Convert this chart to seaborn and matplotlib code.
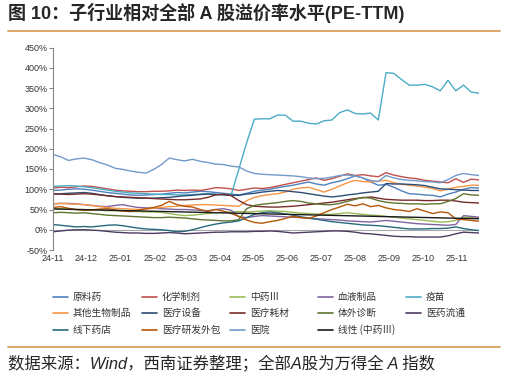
import numpy as np
import pandas as pd
import matplotlib
matplotlib.use('Agg')
import matplotlib.pyplot as plt
import matplotlib.dates as mdates
from matplotlib.lines import Line2D
import seaborn as sns

# --- data: weekly premium (%) vs all-A ---
dates = pd.date_range('2024-11-01', periods=56, freq='7D')

yuanliao = [97, 98, 100, 101, 100, 98, 95, 92, 90, 88,
            86, 85, 86, 87, 88, 90, 92, 91, 93, 95,
            94, 92, 90, 88, 86, 90, 95, 98, 100, 104,
            107, 110, 114, 118, 113, 110, 116, 120, 126, 133,
            128, 118, 110, 112, 105, 96, 89, 88, 86, 85,
            81, 88, 93, 100, 104, 103]
huaxue = [103, 105, 104, 106, 108, 107, 104, 101, 98, 96,
          95, 94, 94, 95, 95, 96, 98, 97, 98, 97,
          100, 104, 103, 101, 97, 100, 103, 102, 104, 108,
          112, 116, 120, 124, 128, 122, 126, 132, 138, 134,
          136, 133, 131, 141, 135, 131, 128, 126, 122, 120,
          118, 116, 126, 117, 125, 123]
zhongyao = [52, 52, 51, 50, 50, 49, 48, 47, 47, 46,
            45, 45, 44, 44, 43, 40, 37, 35, 36, 38,
            40, 42, 43, 44, 45, 44, 45, 46, 47, 46,
            45, 43, 41, 40, 39, 38, 38, 40, 42, 40,
            38, 36, 35, 33, 31, 29, 27, 25, 23, 21,
            19, 20, 23, 31, 30, 30]
xueye = [64, 65, 65, 64, 62, 60, 58, 57, 60, 62,
         58, 55, 54, 53, 52, 51, 50, 50, 49, 48,
         47, 50, 52, 48, 32, 30, 33, 35, 34, 33,
         32, 31, 30, 28, 27, 26, 25, 24, 22, 21,
         20, 19, 21, 23, 21, 19, 17, 15, 14, 13,
         12, 11, 13, 35, 33, 31]
yimiao = [107, 108, 109, 108, 106, 104, 101, 98, 95, 93,
          91, 90, 89, 88, 87, 87, 86, 86, 87, 88,
          89, 88, 87, 86, 150, 215, 273, 274, 274, 283,
          283, 268, 268, 263, 261, 269, 271, 289, 296, 287,
          286, 288, 271, 388, 386, 371, 357, 357, 359, 353,
          343, 369, 343, 357, 340, 337]
qita = [64, 65, 64, 63, 62, 60, 57, 55, 53, 52,
        51, 50, 51, 53, 55, 57, 58, 60, 61, 62,
        62, 61, 60, 59, 58, 72, 80, 84, 87, 89,
        93, 100, 103, 105, 99, 93, 100, 108, 116, 122,
        119, 118, 120, 122, 116, 112, 110, 108, 105, 102,
        96, 100, 105, 107, 110, 110]
shebei = [88, 89, 90, 91, 92, 90, 87, 84, 82, 80,
          79, 78, 78, 78, 79, 80, 82, 84, 85, 87,
          88, 87, 86, 85, 85, 88, 90, 93, 95, 97,
          96, 94, 92, 89, 86, 83, 81, 83, 86, 88,
          91, 93, 95, 114, 113, 113, 112, 111, 109, 105,
          101, 100, 99, 98, 97, 97]
haocai = [88, 88, 87, 88, 89, 88, 86, 84, 82, 81,
          80, 79, 78, 77, 76, 75, 74, 74, 75, 76,
          80, 86, 88, 84, 72, 62, 58, 57, 56, 56,
          57, 58, 60, 62, 64, 66, 68, 71, 74, 77,
          79, 81, 78, 75, 74, 73, 73, 73, 72, 72,
          73, 73, 71, 68, 67, 66]
tiwai = [42, 43, 42, 41, 42, 40, 38, 36, 35, 34,
         33, 32, 31, 30, 30, 31, 30, 29, 27, 25,
         24, 23, 22, 22, 25, 52, 60, 63, 65, 67,
         70, 72, 70, 66, 64, 62, 62, 65, 70, 75,
         80, 78, 72, 68, 66, 65, 64, 64, 63, 64,
         64, 70, 77, 89, 86, 85]
liutong = [-5, -3, -1, 0, 0, -1, -2, -4, -6, -7,
           -8, -8, -9, -9, -8, -7, -8, -10, -9, -8,
           -7, -6, -6, -5, -5, -5, -4, -4, -3, -4,
           -6, -8, -7, -6, -5, -4, -3, -3, -4, -6,
           -9, -10, -12, -14, -16, -17, -17, -18, -18, -18,
           -18, -15, -10, -6, -7, -8]
yaodian = [13, 11, 9, 7, 8, 7, 9, 11, 12, 10,
           7, 4, 2, 1, 0, -2, -5, -4, 0, 5,
           10, 14, 17, 19, 22, 30, 38, 42, 44, 42,
           39, 36, 32, 29, 26, 23, 20, 18, 16, 14,
           12, 11, 10, 8, 6, 4, 2, 2, 2, 3,
           3, 4, 7, 3, 0, -2]
waibao = [55, 57, 53, 50, 48, 49, 51, 52, 49, 46,
          45, 48, 52, 55, 60, 70, 62, 58, 56, 50,
          45, 50, 46, 40, 33, 24, 18, 16, 20, 23,
          28, 33, 30, 28, 34, 42, 50, 56, 63, 59,
          64, 57, 60, 54, 50, 48, 45, 52, 46, 40,
          44, 42, 27, 25, 23, 21]
yiyuan = [186, 180, 171, 175, 177, 173, 166, 160, 152, 149,
          145, 142, 140, 149, 161, 177, 173, 170, 174, 169,
          166, 162, 161, 157, 155, 145, 139, 137, 136, 135,
          134, 133, 131, 128, 126, 127, 130, 134, 135, 133,
          128, 122, 119, 134, 128, 124, 122, 121, 119, 118,
          116, 124, 134, 139, 136, 134]

names = ['原料药', '化学制剂', '中药Ⅲ', '血液制品', '疫苗',
         '其他生物制品', '医疗设备', '医疗耗材', '体外诊断', '医药流通',
         '线下药店', '医疗研发外包', '医院', '线性 (中药Ⅲ)']
colors = ['#4F81BD', '#C0504D', '#9BBB59', '#8064A2', '#4BACC6',
          '#F79646', '#2C4D75', '#772C2A', '#5F7530', '#4D3B62',
          '#276A7C', '#B65708', '#729ACA', '#1a1a1a']

# linear trend of 中药III (Excel-style trendline)
idx = np.arange(len(dates))
coef = np.polyfit(idx, zhongyao, 1)
trend = np.polyval(coef, idx)

all_vals = [yuanliao, huaxue, zhongyao, xueye, yimiao, qita, shebei, haocai,
            tiwai, liutong, yaodian, waibao, yiyuan, trend]
df = pd.concat([pd.DataFrame({'date': dates, 'value': v, 'name': n})
                for n, v in zip(names, all_vals)], ignore_index=True)

# --- style ---
sns.set_style('white')
plt.rcParams['font.family'] = ['Liberation Sans', 'Noto Sans CJK SC']
plt.rcParams['axes.unicode_minus'] = False

fig = plt.figure(figsize=(5.06, 3.78), dpi=100)
ax = fig.add_axes([53 / 506, 1 - 250 / 378, (479 - 53) / 506, (250 - 47.5) / 378])

ax.axhline(0, color='#a6a6a6', lw=0.8, zorder=1)
sns.lineplot(data=df, x='date', y='value', hue='name', hue_order=names,
             palette=dict(zip(names, colors)), linewidth=1.0,
             legend=False, ax=ax, zorder=2)

ax.set_xlim(dates[0], dates[-1])
ax.set_ylim(-50, 450)
ax.set_yticks(range(-50, 451, 50))
ax.set_yticklabels([f'{v}%' for v in range(-50, 451, 50)])
ax.xaxis.set_major_locator(mdates.MonthLocator())
ax.xaxis.set_major_formatter(mdates.DateFormatter('%y-%m'))
ax.set_xlabel('')
ax.set_ylabel('')

for s in ['top', 'right', 'bottom']:
    ax.spines[s].set_visible(False)
ax.spines['left'].set_color('#868686')
ax.spines['left'].set_linewidth(0.8)
ax.tick_params(axis='y', length=3, width=0.8, direction='out', color='#868686',
               labelsize=6.5, labelcolor='#333333', pad=1, left=True)
ax.tick_params(axis='x', length=0, labelsize=6.5, labelcolor='#333333', pad=3)

# --- legend (5 columns, row-major like Excel) ---
col_x = [53, 142, 230, 318, 406]
row_y = [297, 313, 330]
for k, (n, c) in enumerate(zip(names, colors)):
    r, cidx = divmod(k, 5)
    x0 = col_x[cidx] / 506
    y0 = 1 - row_y[r] / 378
    fig.add_artist(Line2D([x0, x0 + 15 / 506], [y0, y0], color=c, lw=1.2))
    fig.text(x0 + 20 / 506, y0, n, fontsize=7, va='center', ha='left',
             color='#333333', family=['Noto Sans CJK SC', 'DejaVu Sans'])

# --- title, rules and source ---
rule_c = '#D9A05B'
fig.text(8 / 506, 1 - 13 / 378, '图 10：子行业相对全部 A 股溢价率水平(PE-TTM)',
         fontsize=13, fontweight='bold', va='center', ha='left')
fig.add_artist(Line2D([8 / 506, 500 / 506], [1 - 31 / 378, 1 - 31 / 378],
                      color=rule_c, lw=1.3))
fig.add_artist(Line2D([8 / 506, 500 / 506], [1 - 347 / 378, 1 - 347 / 378],
                      color=rule_c, lw=1.3))
fig.text(8 / 506, 1 - 363 / 378, '数据来源：Wind，西南证券整理；全部A股为万得全 A 指数',
         fontsize=11.8, style='italic', va='center', ha='left')

fig.savefig('out.png', dpi=100)
